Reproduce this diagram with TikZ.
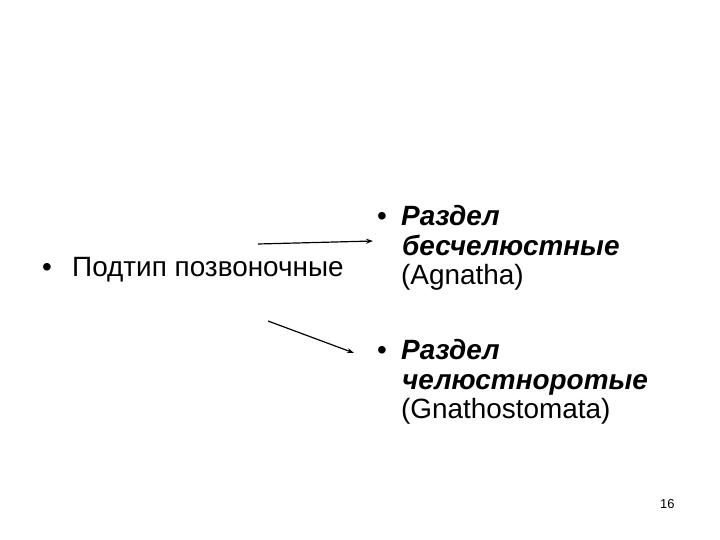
\documentclass[tikz,border=0pt]{standalone}
\usepackage{fontspec}
\setmainfont{Liberation Sans}
\usetikzlibrary{arrows.meta}
\begin{document}
\begin{tikzpicture}[x=1bp, y=-1bp,
    txt/.style={anchor=base west, inner sep=0pt, font=\fontsize{28}{30}\selectfont},
    hd/.style={txt, font=\fontsize{28}{30}\selectfont\bfseries\itshape},
    arr/.style={line width=1.2pt, -{Stealth[length=7pt, width=5pt]}}]
        \useasboundingbox (0,0) rectangle (720,540);
        \node[txt] (b0) at (42,277) {•}; \node[txt] (sub) at (72,277) {Подтип позвоночные};
        \node[txt] (b1) at (377,226) {•}; \node[hd] (r1) at (401,226) {Раздел};
        \node[hd] (r1a) at (402,256) {бесчелюстные};
        \node[txt] (r1b) at (401,285) {(Agnatha)};
        \node[txt] (b2) at (377,359) {•}; \node[hd] (r2) at (401,359) {Раздел};
        \node[hd] (r2a) at (402,389) {челюстноротые};
        \node[txt] (r2b) at (401,418) {(Gnathostomata)};
        \node[anchor=base west, inner sep=0pt, font=\fontsize{13}{15}\selectfont] (num) at (660,508) {16};
        \coordinate (s1) at (258,244); \coordinate (e1) at (373,241);
        \coordinate (s2) at (268,321); \coordinate (e2) at (354,353);
        \draw[arr] (s1) -- (e1);
        \draw[arr] (s2) -- (e2);
      \end{tikzpicture}
\end{document}
